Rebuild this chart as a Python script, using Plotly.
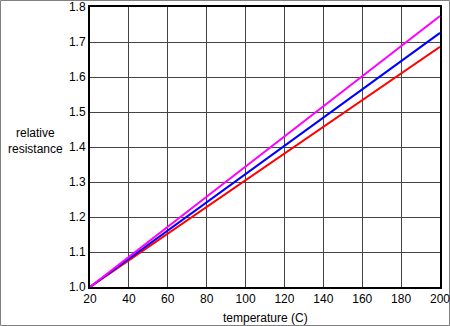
import plotly.graph_objects as go

temps = [20, 200]
magenta_vals = [1.0, 1.774]
blue_vals = [1.0, 1.726]
red_vals = [1.0, 1.686]
x_ticks = [20, 40, 60, 80, 100, 120, 140, 160, 180, 200]
y_ticks = [1.0, 1.1, 1.2, 1.3, 1.4, 1.5, 1.6, 1.7, 1.8]

W, H = 450, 326
L, R, T, B = 90, 10, 7, 39
pw, ph = W - L - R, H - T - B

fig = go.Figure()
for vals, col in [(red_vals, "#ff0000"), (blue_vals, "#0000ff"), (magenta_vals, "#ff00ff")]:
    fig.add_trace(go.Scatter(x=temps, y=vals, mode="lines",
                             line=dict(color=col, width=2), showlegend=False))

font = dict(family="Liberation Sans, Arial, sans-serif", size=12, color="#000000")
fig.update_layout(
    width=W, height=H,
    margin=dict(l=L, r=R, t=T, b=B, autoexpand=False),
    paper_bgcolor="white", plot_bgcolor="white",
    font=font,
    xaxis=dict(range=[20, 200], tickmode="array", tickvals=x_ticks,
               ticktext=[str(v) for v in x_ticks], showgrid=True,
               gridcolor="#444444", gridwidth=1, showline=True, linecolor="black",
               linewidth=2, mirror=True, ticks="", zeroline=False,
               tickfont=font, automargin=False, ticklabeloverflow="allow",
               ticklabelstandoff=0),
    yaxis=dict(range=[1.0, 1.8], tickmode="array", tickvals=y_ticks,
               ticktext=["%.1f" % v for v in y_ticks],
               showgrid=True, gridcolor="#444444", gridwidth=1, showline=True,
               linecolor="black", linewidth=2, mirror=True, ticks="",
               zeroline=False, tickfont=font, automargin=False,
               ticklabeloverflow="allow"),
)
fig.add_annotation(text="temperature (C)", xref="paper", yref="paper",
                   x=0.5, y=-(318 - T - ph) / ph, yanchor="middle",
                   showarrow=False, font=font)
fig.add_annotation(text="relative<br>resistance", xref="paper", yref="paper",
                   x=(35 - L) / pw, y=1 - (141 - T) / ph, xanchor="center",
                   yanchor="middle", showarrow=False, font=font)
fig.add_shape(type="rect", xref="paper", yref="paper",
              x0=(0.5 - L) / pw, x1=(W - 0.5 - L) / pw,
              y0=-(H - 0.5 - T - ph) / ph, y1=1 + (T - 0.5) / ph,
              line=dict(color="#808080", width=1), layer="below")
fig.write_html("out.html")
